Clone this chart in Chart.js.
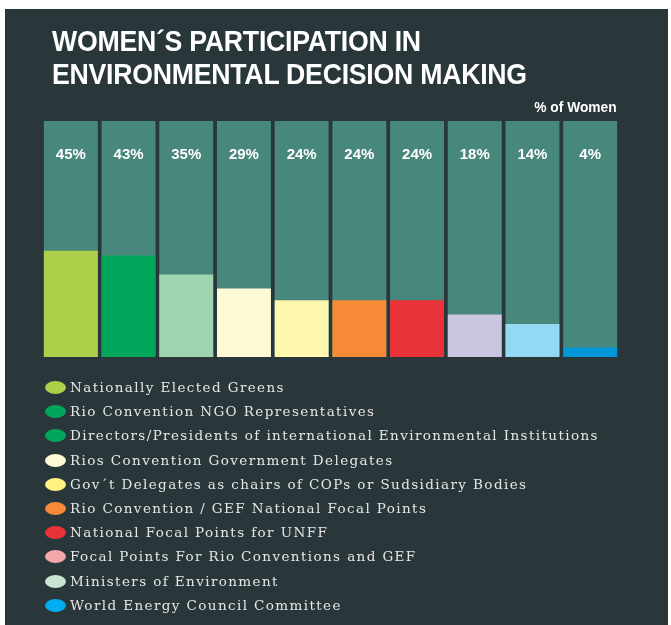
<!DOCTYPE html>
<html>
<head>
<meta charset="utf-8">
<script src="https://cdn.jsdelivr.net/npm/chart.js@4.4.1/dist/chart.umd.min.js"></script>
<style>
  html, body { margin: 0; padding: 0; background: #ffffff; }
  #panel {
    position: absolute; left: 5px; top: 9px; width: 663px; height: 616px;
    background: #29363a;
  }
  #title {
    position: absolute; left: 52px; top: 24px; margin: 0;
    font-family: "Liberation Sans", Arial, sans-serif;
    font-weight: bold; font-size: 30px; line-height: 33px; color: #ffffff;
    letter-spacing: -0.3px; white-space: nowrap;
    transform: scaleX(0.89); transform-origin: left top;
  }
  #unit {
    position: absolute; right: 54px; top: 98px;
    font-family: "Liberation Sans", Arial, sans-serif;
    font-weight: bold; font-size: 15px; color: #ffffff;
    transform: scaleX(0.92); transform-origin: right top;
  }
  #wrap { position: absolute; left: 0; top: 0; width: 671px; height: 625px; }
  #legend {
    position: absolute; left: 45px; top: 375px; margin: 0; padding: 0; list-style: none;
    font-family: "DejaVu Serif", "Liberation Serif", serif; font-size: 13.5px;
    letter-spacing: 1.4px; color: #e6e6e6;
  }
  #legend li { height: 24.2px; line-height: 24px; white-space: nowrap; }
  #legend span.dot {
    display: inline-block; width: 21px; height: 13px; border-radius: 50%;
    vertical-align: -2px; margin-right: 4px;
  }
</style>
</head>
<body>
<div id="panel"></div>
<div id="wrap"><canvas id="chart" width="671" height="625"></canvas></div>
<h1 id="title">WOMEN´S PARTICIPATION IN<br>ENVIRONMENTAL DECISION MAKING</h1>
<div id="unit">% of Women</div>
<ul id="legend"></ul>
<script>
"use strict";

const categories = [
  "Nationally Elected Greens",
  "Rio Convention NGO Representatives",
  "Directors/Presidents of international Environmental Institutions",
  "Rios Convention Government Delegates",
  "Gov´t Delegates as chairs of COPs or Sudsidiary Bodies",
  "Rio Convention / GEF National Focal Points",
  "National Focal Points for UNFF",
  "Focal Points For Rio Conventions and GEF",
  "Ministers of Environment",
  "World Energy Council Committee"
];
const values = [45, 43, 35, 29, 24, 24, 24, 18, 14, 4];
const fullScale = [100, 100, 100, 100, 100, 100, 100, 100, 100, 100];
const barColors = ["#acd04a", "#00a659", "#a0d4b0", "#fffad6", "#fff7ae", "#f68a37", "#ea3339", "#c9c6e2", "#94d9f4", "#0097d9"];
const legendColors = ["#acd04a", "#00a659", "#00a659", "#fffad6", "#fff27f", "#f68a37", "#ea3339", "#f4a6aa", "#c7e5d0", "#00aeef"];

// legend
const ul = document.getElementById("legend");
categories.forEach((c, i) => {
  const li = document.createElement("li");
  const dot = document.createElement("span");
  dot.className = "dot";
  dot.style.background = legendColors[i];
  li.appendChild(dot);
  li.appendChild(document.createTextNode(c));
  ul.appendChild(li);
});

// percent labels near the top of each column
const topLabels = {
  id: "topLabels",
  afterDatasetsDraw(chart) {
    const ctx = chart.ctx;
    const meta = chart.getDatasetMeta(0);
    ctx.save();
    ctx.fillStyle = "#ffffff";
    ctx.font = "bold 15px 'Liberation Sans', Arial, sans-serif";
    ctx.textAlign = "center";
    ctx.textBaseline = "middle";
    meta.data.forEach((bar, i) => {
      ctx.fillText(values[i] + "%", bar.x, chart.chartArea.top + 34);
    });
    ctx.restore();
  }
};

new Chart(document.getElementById("chart"), {
  type: "bar",
  data: {
    labels: categories,
    datasets: [{
      data: values,
      backgroundColor: barColors,
      order: 0
    }, {
      data: fullScale,
      backgroundColor: "#48877b",
      order: 1
    }]
  },
  options: {
    responsive: false,
    animation: false,
    events: [],
    layout: { padding: { left: 42, right: 52, top: 121, bottom: 268 } },
    datasets: {
      bar: { grouped: false, categoryPercentage: 1, barPercentage: 0.935, borderWidth: 0 }
    },
    plugins: { legend: { display: false }, tooltip: { enabled: false } },
    scales: {
      x: { display: false },
      y: { display: false, min: 0, max: 100 }
    }
  },
  plugins: [topLabels]
});
</script>
</body>
</html>
